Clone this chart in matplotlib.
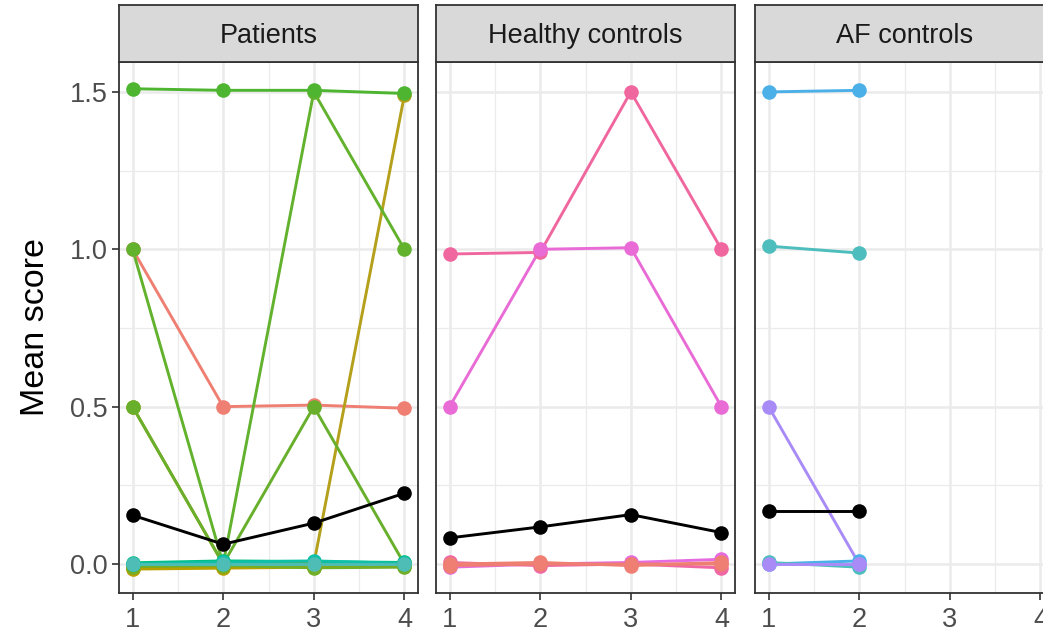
import matplotlib
matplotlib.use("Agg")
import matplotlib.pyplot as plt

plt.rcParams['font.family'] = ['Liberation Sans', 'DejaVu Sans']

# ---- data -----------------------------------------------------------------
visits = [1, 2, 3, 4]
panels = ["Patients", "Healthy controls", "AF controls"]
y_ticks = [0.0, 0.5, 1.0, 1.5]
y_tick_labels = ["0.0", "0.5", "1.0", "1.5"]

# Patients: individual trajectories (colour, scores per visit)
patients_colors = ["#E28A00", "#B79F00", "#72AE27", "#3CB73A", "#00BF84",
                   "#EE7F72", "#B5A01C", "#68B02C", "#62B22E", "#4EB531",
                   "#10BFA8", "#4DBDB5"]
patients_scores = [
    [-0.012, -0.010, -0.008, 0.004],
    [-0.016, -0.013, -0.010, -0.006],
    [-0.008, -0.005, -0.012, -0.010],
    [0.000, 0.005, 0.000, 0.000],
    [0.004, 0.010, 0.008, 0.005],
    [1.000, 0.500, 0.505, 0.495],
    [0.500, 0.000, 0.000, 1.490],
    [0.500, 0.000, 0.500, 0.000],
    [1.000, 0.000, 1.500, 1.000],
    [1.510, 1.505, 1.505, 1.495],
    [0.000, 0.006, 0.010, 0.002],
    [0.000, 0.000, 0.000, 0.000],
]
patients_mean = [0.155, 0.063, 0.130, 0.225]

# Healthy controls
healthy_colors = ["#E76BE0", "#F067A6", "#EE7D72", "#F0679F", "#E86BD6", "#EE7F72"]
healthy_scores = [
    [-0.010, 0.000, 0.005, 0.015],
    [0.005, -0.005, 0.000, -0.012],
    [-0.005, 0.000, 0.000, 0.000],
    [0.985, 0.990, 1.500, 1.000],
    [0.500, 1.000, 1.005, 0.500],
    [0.000, 0.005, -0.005, 0.005],
]
healthy_mean = [0.083, 0.118, 0.157, 0.100]

# AF controls (two visits)
af_colors = ["#4CB0E8", "#4DBDBD", "#4CB0E8", "#4DBDBD", "#A98BF7", "#A98BF7"]
af_scores = [
    [0.000, 0.010],
    [0.005, -0.010],
    [1.500, 1.505],
    [1.010, 0.988],
    [0.500, 0.000],
    [0.000, 0.000],
]
af_mean = [0.167, 0.167]

groups = [
    (patients_colors, patients_scores, patients_mean),
    (healthy_colors, healthy_scores, healthy_mean),
    (af_colors, af_scores, af_mean),
]

# ---- layout (pixel geometry) ---------------------------------------------
W, H = 1043, 636
fig = plt.figure(figsize=(W / 100, H / 100), dpi=100)
fig.patch.set_facecolor("white")

panel_lefts = [119, 436, 755]
panel_w = 299
panel_top, panel_bottom = 62, 593
strip_top = 5

border_col = "#333333"
grid_col = "#EBEBEB"

for i, (left, name, (cols, scores, mean)) in enumerate(zip(panel_lefts, panels, groups)):
    ax = fig.add_axes([left / W, (H - panel_bottom) / H,
                       panel_w / W, (panel_bottom - panel_top) / H])
    ax.set_xlim(0.85, 4.15)
    ax.set_ylim(-0.092, 1.595)

    # grid
    for yv in [0.25, 0.75, 1.25]:
        ax.axhline(yv, color=grid_col, lw=0.9, zorder=0)
    for xv in [1.5, 2.5, 3.5]:
        ax.axvline(xv, color=grid_col, lw=0.9, zorder=0)
    for yv in y_ticks:
        ax.axhline(yv, color=grid_col, lw=1.8, zorder=0)
    for xv in visits:
        ax.axvline(xv, color=grid_col, lw=1.8, zorder=0)

    for c, s in zip(cols, scores):
        xs = visits[:len(s)]
        ax.plot(xs, s, color=c, lw=2.1, zorder=2, solid_capstyle="butt")
        ax.plot(xs, s, "o", color=c, ms=10.5, mec="none", zorder=3)
    ax.plot(visits[:len(mean)], mean, color="black", lw=2.1, zorder=4)
    ax.plot(visits[:len(mean)], mean, "o", color="black", ms=10.5, mec="none", zorder=5)

    ax.set_xticks(visits)
    ax.set_xticklabels([str(v) for v in visits])
    ax.tick_params(axis="x", length=5, width=1.2, color=border_col, pad=5,
                   labelsize=19.5, labelcolor="#4D4D4D")
    if i == 0:
        ax.set_yticks(y_ticks)
        ax.set_yticklabels(y_tick_labels)
        ax.tick_params(axis="y", length=5, width=1.2, color=border_col, pad=3,
                       labelsize=19.5, labelcolor="#4D4D4D")
        ax.set_ylabel("Mean score", fontsize=24.5, color="black", labelpad=14)
    else:
        ax.set_yticks([])
    for sp in ax.spines.values():
        sp.set_color(border_col)
        sp.set_linewidth(1.3)
    ax.set_facecolor("white")

    # facet strip
    sax = fig.add_axes([left / W, (H - panel_top) / H,
                        panel_w / W, (panel_top - strip_top) / H])
    sax.set_facecolor("#D9D9D9")
    sax.set_xticks([])
    sax.set_yticks([])
    for sp in sax.spines.values():
        sp.set_color(border_col)
        sp.set_linewidth(1.3)
    sax.text(0.5, 0.45, name, ha="center", va="center", fontsize=19.5,
             color="#1A1A1A", transform=sax.transAxes)

fig.savefig("out.png", dpi=100, facecolor="white")
